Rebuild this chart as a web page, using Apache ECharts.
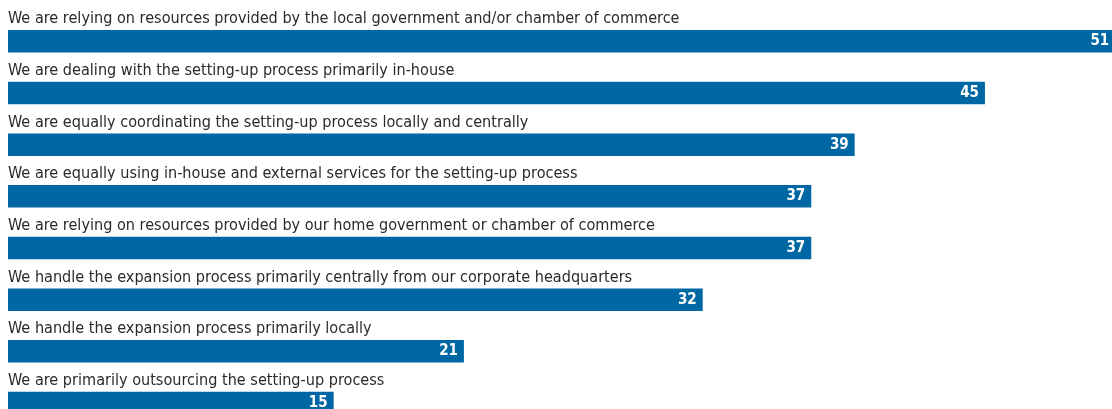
<!DOCTYPE html>
<html>
<head>
<meta charset="utf-8">
<script src="https://cdn.jsdelivr.net/npm/echarts@6/dist/echarts.min.js"></script>
<style>
  html, body { margin: 0; padding: 0; background: #ffffff; }
  #chart { width: 1112px; height: 409px; }
</style>
</head>
<body>
<div id="chart"></div>
<script>
// Survey statements, top to bottom
const categories = [
  'We are relying on resources provided by the local government and/or chamber of commerce',
  'We are dealing with the setting-up process primarily in-house',
  'We are equally coordinating the setting-up process locally and centrally',
  'We are equally using in-house and external services for the setting-up process',
  'We are relying on resources provided by our home government or chamber of commerce',
  'We handle the expansion process primarily centrally from our corporate headquarters',
  'We handle the expansion process primarily locally',
  'We are primarily outsourcing the setting-up process'
];
// Share of respondents (%)
const values = [51, 45, 39, 37, 37, 32, 21, 15];

const BAR_COLOR = '#0067a5';
const TEXT_FONT = '"Liberation Sans Narrow", "DejaVu Sans Condensed", sans-serif';

const chart = echarts.init(document.getElementById('chart'), null, { renderer: 'canvas' });
chart.setOption({
  animation: false,
  backgroundColor: '#ffffff',
  // the last row runs past the bottom edge of the page
  grid: {
    left: 8, top: 15.5, right: -3.2, bottom: -19.8,
    containLabel: false, outerBoundsMode: 'none'
  },
  xAxis: {
    type: 'value', min: 0, max: 51,
    show: false
  },
  yAxis: {
    type: 'category', data: categories, inverse: true,
    axisLine: { show: false }, axisTick: { show: false },
    axisLabel: { show: false }, splitLine: { show: false }
  },
  series: [
    {
      type: 'bar',
      data: values,
      barWidth: 22.5,
      itemStyle: { color: BAR_COLOR },
      label: {
        show: true,
        position: 'insideRight',
        distance: 6,
        color: '#ffffff',
        fontFamily: TEXT_FONT,
        fontWeight: 'bold',
        fontSize: 15
      },
      silent: true
    },
    {
      // statement text sitting on top of each bar
      type: 'bar',
      data: values,
      barWidth: 22.5,
      barGap: '-100%',
      itemStyle: { color: 'rgba(0,0,0,0)' },
      label: {
        show: true,
        position: [0, -3],
        align: 'left',
        verticalAlign: 'bottom',
        lineHeight: 16,
        color: '#2a2a2a',
        fontFamily: TEXT_FONT,
        fontSize: 16.1,
        formatter: p => categories[p.dataIndex]
      },
      silent: true
    }
  ]
});
</script>
</body>
</html>
